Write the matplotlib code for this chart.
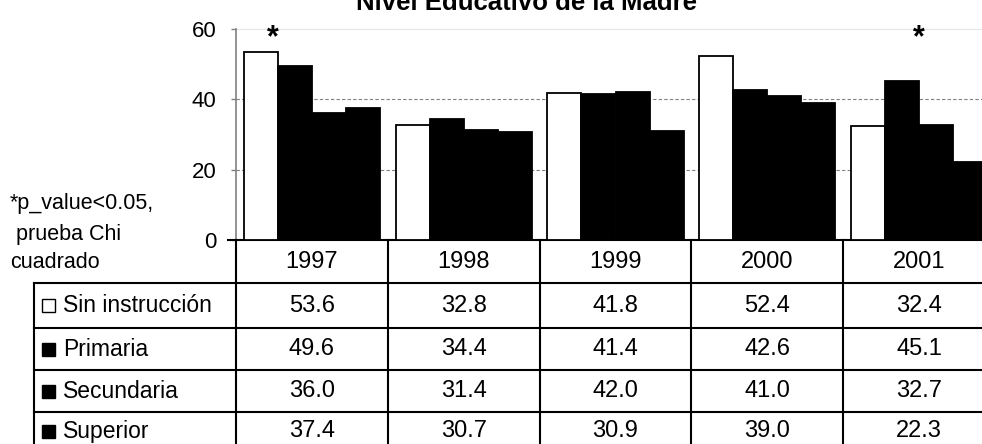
import matplotlib
matplotlib.use("Agg")
import matplotlib.pyplot as plt
import matplotlib.transforms as mtransforms
from matplotlib.patches import Rectangle
import numpy as np

plt.rcParams['font.family'] = ['Liberation Sans', 'DejaVu Sans']

# Data
years = ["1997", "1998", "1999", "2000", "2001"]
series_names = ["Sin instrucción", "Primaria", "Secundaria", "Superior"]
sin_instruccion = [53.6, 32.8, 41.8, 52.4, 32.4]
primaria = [49.6, 34.4, 41.4, 42.6, 45.1]
secundaria = [36.0, 31.4, 42.0, 41.0, 32.7]
superior = [37.4, 30.7, 30.9, 39.0, 22.3]
series_values = [sin_instruccion, primaria, secundaria, superior]
series_colors = ["white", "black", "black", "black"]
yticks = [0, 20, 40, 60]
title = "Nivel Educativo de la Madre"
note_lines = ["*p_value<0.05,", " prueba Chi", "cuadrado"]
# significant groups: (year index, offset within group)
significance = [(0, -0.26), (4, 0.0)]

W, H = 982, 444
fig = plt.figure(figsize=(W / 100, H / 100), dpi=100)


def fy(py):
    return 1 - py / H


def fx(px):
    return px / W


ax = fig.add_axes([fx(236), fy(240), 759 / W, 211 / H])
x = np.arange(len(years))
bar_w = 0.224
offsets = [-1.5 * bar_w, -0.5 * bar_w, 0.5 * bar_w, 1.5 * bar_w]
for vals, col, off in zip(series_values, series_colors, offsets):
    ax.bar(x + off, vals, width=bar_w, color=col, edgecolor="black",
           linewidth=1.3, zorder=3)

ax.set_xlim(-0.5, 4.5)
ax.set_ylim(0, 60)
ax.set_yticks(yticks)
ax.set_xticks([])
ax.tick_params(axis="y", labelsize=16, length=3.6, width=1, color="#808080",
               pad=10.5)
for s in ["top", "right"]:
    ax.spines[s].set_visible(False)
ax.spines["left"].set_color("#808080")
ax.spines["left"].set_linewidth(1.2)
ax.spines["bottom"].set_color("black")
ax.spines["bottom"].set_linewidth(1.5)
for yv in [20, 40]:
    ax.axhline(yv, color="#808080", linewidth=0.8, linestyle=(0, (3, 2)),
               zorder=1)
ax.axhline(60, color="#e6e6e6", linewidth=0.8, zorder=1, clip_on=False)

# significance markers
for idx, off in significance:
    ax.text(idx + off, 57.3, "*", ha="center", va="center", fontsize=22,
            fontweight="bold")

# title
fig.text(fx(527), fy(10), title, ha="center", va="baseline", fontsize=18.5,
         fontweight="bold")

# note on the left
for line, base in zip(note_lines, [209, 240, 268]):
    fig.text(fx(10), fy(base), line, ha="left", va="baseline", fontsize=15.5)

# data table below the axis
trans = mtransforms.blended_transform_factory(ax.transData, fig.transFigure)
row_bounds = [240, 283, 328, 370, 412, 456]
for b in np.arange(-0.5, 4.6, 1.0):
    fig.add_artist(plt.Line2D([b, b], [fy(240), fy(H + 5)], transform=trans,
                              color="black", linewidth=1.5))
for yb in row_bounds[1:-1]:
    fig.add_artist(plt.Line2D([fx(34), 1.01], [fy(yb), fy(yb)],
                              transform=fig.transFigure, color="black",
                              linewidth=1.5))
fig.add_artist(plt.Line2D([fx(34), fx(34)], [fy(283), fy(H + 5)],
                          transform=fig.transFigure, color="black",
                          linewidth=1.5))
fig.add_artist(plt.Line2D([fx(228), fx(236)], [fy(240), fy(240)],
                          transform=fig.transFigure, color="black",
                          linewidth=1.5))

# column headers
hc = (row_bounds[0] + row_bounds[1]) / 2
for i, yr in enumerate(years):
    fig.text(x[i], fy(hc), yr, transform=trans, ha="center", va="center",
             fontsize=17)

# rows: legend key, series name, values
for r, (name, vals, col) in enumerate(zip(series_names, series_values,
                                          series_colors)):
    cy = (row_bounds[r + 1] + row_bounds[r + 2]) / 2
    if r == 3:
        cy = 431
    key = 13
    fig.add_artist(Rectangle((fx(42), fy(cy + key / 2)), key / W, key / H,
                             transform=fig.transFigure, facecolor=col,
                             edgecolor="black", linewidth=1.0))
    fig.text(fx(63), fy(cy), name, ha="left", va="center", fontsize=16.5)
    for i, v in enumerate(vals):
        fig.text(x[i], fy(cy), f"{v:.1f}", transform=trans, ha="center",
                 va="center", fontsize=17)

fig.savefig("out.png", dpi=100, facecolor="white")
